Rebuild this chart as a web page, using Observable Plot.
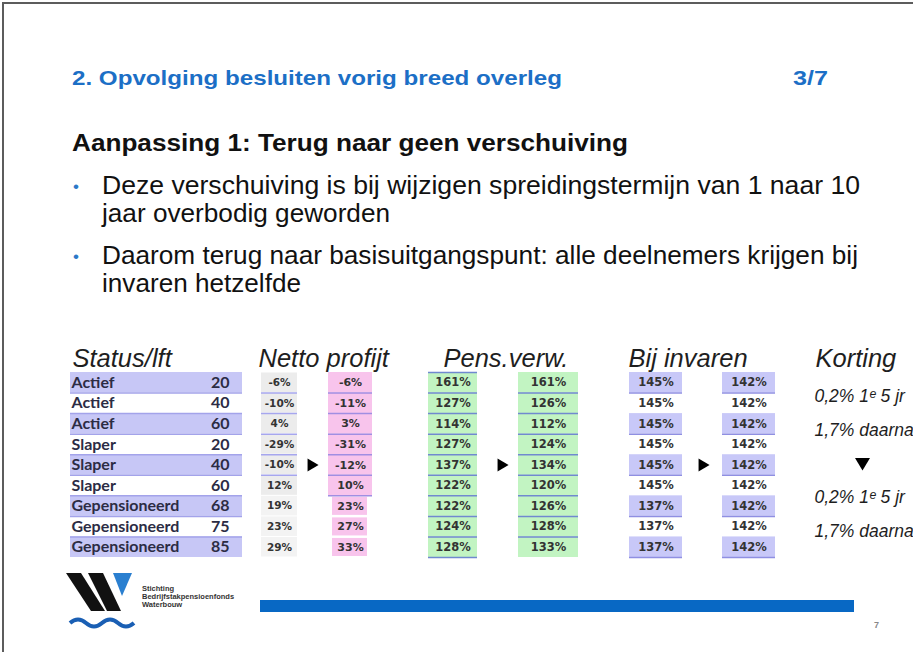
<!DOCTYPE html>
<html><head><meta charset="utf-8">
<script src="https://cdn.jsdelivr.net/npm/d3@7"></script>
<script src="https://cdn.jsdelivr.net/npm/@observablehq/plot@0.6"></script>
<style>
html,body{margin:0;padding:0;background:#fff;}
#page{position:relative;width:913px;height:652px;overflow:hidden;background:#fff;font-family:"Liberation Sans",Arial,sans-serif;}
#deco{position:absolute;left:0;top:0;}
#table{position:absolute;left:0;top:340px;}
</style></head><body>
<div id="page">
<svg id="deco" width="913" height="652" font-family="Liberation Sans, Arial, sans-serif">
  <path d="M3,652 V3 H913" fill="none" stroke="#5c5c5c" stroke-width="2"/>
  <text x="72" y="85" font-size="21" font-weight="bold" fill="#1c6fc6" textLength="490" lengthAdjust="spacingAndGlyphs">2. Opvolging besluiten vorig breed overleg</text>
  <text x="793" y="85" font-size="21" font-weight="bold" fill="#1c6fc6" textLength="35" lengthAdjust="spacingAndGlyphs">3/7</text>
  <text x="72" y="151" font-size="23" font-weight="bold" fill="#111" textLength="556" lengthAdjust="spacingAndGlyphs">Aanpassing 1: Terug naar geen verschuiving</text>
  <text x="73" y="192" font-size="17" fill="#2b78c8">•</text>
  <text x="102" y="194" font-size="25" fill="#111" textLength="758" lengthAdjust="spacingAndGlyphs">Deze verschuiving is bij wijzigen spreidingstermijn van 1 naar 10</text>
  <text x="102" y="222" font-size="25" fill="#111" textLength="288" lengthAdjust="spacingAndGlyphs">jaar overbodig geworden</text>
  <text x="73" y="262" font-size="17" fill="#2b78c8">•</text>
  <text x="102" y="264" font-size="25" fill="#111" textLength="756" lengthAdjust="spacingAndGlyphs">Daarom terug naar basisuitgangspunt: alle deelnemers krijgen bij</text>
  <text x="102" y="292" font-size="25" fill="#111" textLength="199" lengthAdjust="spacingAndGlyphs">invaren hetzelfde</text>
  <!-- footer logo -->
  <polygon points="66,573 81,573 105,611 91,611" fill="#111"/>
  <polygon points="88,573 103,573 121,611 107,611" fill="#111"/>
  <polygon points="113,573 132,573 122,596" fill="#2a7fd0"/>
  <path d="M70,623 q8,-7 16,0 t16,0 t16,0 t16,0" fill="none" stroke="#1a5fb4" stroke-width="4"/>
  <text x="142" y="591" font-size="7.5" font-weight="bold" fill="#333">Stichting</text>
  <text x="142" y="599" font-size="7.5" font-weight="bold" fill="#333">Bedrijfstakpensioenfonds</text>
  <text x="142" y="607" font-size="7.5" font-weight="bold" fill="#333">Waterbouw</text>
  <rect x="260" y="600" width="594" height="12" fill="#0868c4"/>
  <text x="874" y="628" font-size="9" font-weight="bold" fill="#888">7</text>
</svg>
<div id="table"></div>
</div>
<script>
// ---- data ----
const statuses = ["Actief","Actief","Actief","Slaper","Slaper","Slaper","Gepensioneerd","Gepensioneerd","Gepensioneerd"];
const ages = [20,40,60,20,40,60,68,75,85];
const nettoOld = [-6,-10,4,-29,-10,12,19,23,29];
const nettoNew = [-6,-11,3,-31,-12,10,23,27,33];
const pensOld = [161,127,114,127,137,122,122,124,128];
const pensNew = [161,126,112,124,134,120,126,128,133];
const invarenOld = [145,145,145,145,145,145,137,137,137];
const invarenNew = [142,142,142,142,142,142,142,142,142];
const headers = ["Status/lft","Netto profijt","Pens.verw.","Bij invaren","Korting"];
const kortingLines = ["0,2% 1ᵉ 5 jr","1,7% daarna","0,2% 1ᵉ 5 jr","1,7% daarna"];

// ---- layout (positions / styles) ----
const C = {status:[70,242], n0:[261,297], n1:[328,372], p0:[428,477], p1:[518,578], b0:[629,682], b1:[722,775]};
const mid = k => (C[k][0] + C[k][1]) / 2;
const headerX = [72, 258, 443, 628, 815];
const arrowX = [312, 502, 703];
const kSlots = [0, 1, 3, 4];
const kStart = 1.15, kStep = 1.65;
const pctFont = {fontFamily: "DejaVu Sans", fontWeight: "bold", fill: "#333"};

const rows = statuses.map((s, i) => ({i, status: s, age: ages[i], n0: nettoOld[i], n1: nettoNew[i], p0: pensOld[i], p1: pensNew[i], b0: invarenOld[i], b1: invarenNew[i]}));
const pct = k => d => `${d[k]}%`;
const yc = d => d.i + 0.5;

const triRight = {draw(ctx, size){ const r = Math.sqrt(size / Math.PI); ctx.moveTo(-0.9*r, -1.2*r); ctx.lineTo(1.1*r, 0); ctx.lineTo(-0.9*r, 1.2*r); ctx.closePath(); }};
const triDown = {draw(ctx, size){ const r = Math.sqrt(size / Math.PI); ctx.moveTo(-1.25*r, -r); ctx.lineTo(1.25*r, -r); ctx.lineTo(0, 1.1*r); ctx.closePath(); }};

const cellRect = (k, fill, opts = {}, data = rows) => Plot.rect(data, {x1: C[k][0], x2: C[k][1], y1: "i", y2: d => d.i + 1, fill, ...opts});
const lines = (k, filter, stroke) => Plot.ruleY(rows.filter(filter), {y: d => d.i + 1, x1: C[k][0], x2: C[k][1], stroke, strokeWidth: 1.5});

const plot = Plot.plot({
  width: 913, height: 230, margin: 0,
  x: {type: "linear", domain: [0, 913], range: [0, 913], axis: null},
  y: {type: "linear", domain: [0, 9], range: [32, 217], axis: null},
  marks: [
    // Status / leeftijd
    cellRect("status", d => d.i % 2 === 0 ? "#c7c7f6" : "#ffffff"),
    lines("status", d => d.i < 8, "#a3a3ea"),
    Plot.text(rows, {x: 71, y: yc, text: "status", textAnchor: "start", fontFamily: "Lato", fontWeight: "bold", fontSize: 16, fill: "#2c2c44"}),
    Plot.text(rows, {x: 229, y: yc, text: "age", textAnchor: "end", fontFamily: "Lato", fontWeight: "bold", fontSize: 16, fill: "#2c2c44"}),
    // Netto profijt
    cellRect("n0", d => d.i < 6 ? "#ececec" : "#f3f3f3", {insetTop: 0.5, insetBottom: 0.5}),
    lines("n0", d => d.i < 5, "#a6a6ee"),
    Plot.text(rows, {x: mid("n0"), y: yc, text: pct("n0"), fontSize: 10.5, ...pctFont}),
    cellRect("n1", "#f8c4ec", {}, rows.filter(d => d.i < 6)),
    cellRect("n1", "#f8c4ec", {insetLeft: 4, insetRight: 5, insetTop: 1.5, insetBottom: 1}, rows.filter(d => d.i >= 6)),
    lines("n1", d => d.i < 6, "#a08ee2"),
    Plot.text(rows, {x: mid("n1"), y: yc, text: pct("n1"), fontSize: 11, ...pctFont}),
    // Pensioenverwachting
    cellRect("p0", "#c2f4c2"),
    cellRect("p1", "#c2f4c2"),
    Plot.ruleY([0], {x1: C.p0[0], x2: C.p0[1], stroke: "#7089cf", strokeWidth: 1.5}),
    lines("p0", () => true, "#7089cf"),
    lines("p1", d => d.i < 8, "#7089cf"),
    Plot.text(rows, {x: mid("p0"), y: yc, text: pct("p0"), fontSize: 11.5, ...pctFont}),
    Plot.text(rows, {x: mid("p1"), y: yc, text: pct("p1"), fontSize: 11.5, ...pctFont}),
    // Bij invaren
    cellRect("b0", d => d.i % 2 === 0 ? "#c8c8f8" : "#ffffff"),
    cellRect("b1", d => d.i % 2 === 0 ? "#c8c8f8" : "#ffffff"),
    lines("b0", d => d.i % 2 === 0, "#8f8fe2"),
    lines("b1", d => d.i % 2 === 0, "#8f8fe2"),
    Plot.text(rows, {x: mid("b0"), y: yc, text: pct("b0"), fontSize: 11.5, ...pctFont, fontWeight: 600}),
    Plot.text(rows, {x: mid("b1"), y: yc, text: pct("b1"), fontSize: 11.5, ...pctFont, fontWeight: 600}),
    // arrows
    Plot.dot(arrowX, {x: d => d, y: 4.5, symbol: triRight, r: 5.5, fill: "#000", stroke: null}),
    // headers
    Plot.text(headers, {x: (d, i) => headerX[i], frameAnchor: "top", dy: 26, lineAnchor: "bottom", text: d => d, textAnchor: "start", fontFamily: "Liberation Sans", fontStyle: "italic", fontSize: 25.5, fill: "#1e1e1e"}),
    // Korting
    Plot.text(kortingLines, {x: 814, y: (d, i) => kStart + kSlots[i] * kStep, text: d => d, textAnchor: "start", fontFamily: "Liberation Sans", fontStyle: "italic", fontSize: 17.5, fill: "#1e1e1e"}),
    Plot.dot([2], {x: 862, y: d => kStart + d * kStep, symbol: triDown, r: 6, fill: "#000", stroke: null})
  ]
});
document.getElementById("table").appendChild(plot);
</script>
</body></html>
